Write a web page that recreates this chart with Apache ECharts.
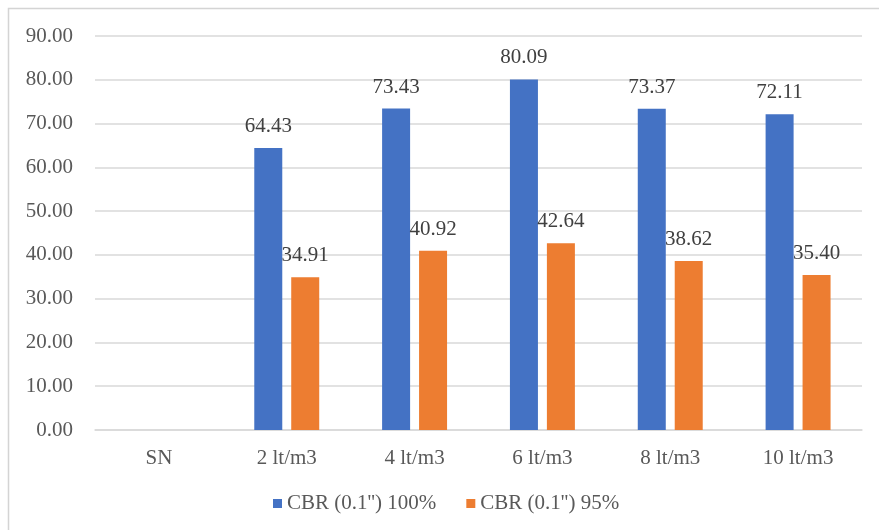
<!DOCTYPE html>
<html>
<head>
<meta charset="utf-8">
<script src="https://cdn.jsdelivr.net/npm/echarts@6/dist/echarts.min.js"></script>
<style>
  html, body { margin: 0; padding: 0; background: #ffffff; }
  #chart { width: 879px; height: 530px; }
</style>
</head>
<body>
<div id="chart"></div>
<script>
// Dosage categories along the horizontal axis
const categories = ['SN', '2 lt/m3', '4 lt/m3', '6 lt/m3', '8 lt/m3', '10 lt/m3'];

// CBR values at 0.1" penetration (SN has no measurement shown)
const cbr100 = [null, 64.43, 73.43, 80.09, 73.37, 72.11];
const cbr95 = [null, 34.91, 40.92, 42.64, 38.62, 35.40];

const seriesNames = ['CBR (0.1\'\') 100%', 'CBR (0.1\'\') 95%'];

// Value axis range
const yMin = 0;
const yMax = 90;
const yStep = 10;

const FONT = '"Liberation Serif", "Times New Roman", serif';
const chart = echarts.init(document.getElementById('chart'));

const valueLabel = {
  show: true,
  position: 'top',
  distance: 11,
  fontFamily: FONT,
  fontSize: 21,
  color: '#404040',
  formatter: p => (p.value == null ? '' : Number(p.value).toFixed(2))
};

chart.setOption({
  animation: false,
  backgroundColor: '#ffffff',
  graphic: [{
    type: 'rect',
    shape: { x: 8.5, y: 8.5, width: 1000, height: 1000 },
    style: { fill: 'none', stroke: '#d4d4d4', lineWidth: 1.5 },
    silent: true,
    z: -1
  }],
  grid: { left: 95, right: 17, top: 36, bottom: 100 },
  legend: {
    left: 268,
    top: 488,
    itemWidth: 9,
    itemHeight: 9,
    itemGap: 30,
    icon: 'rect',
    textStyle: { fontFamily: FONT, fontSize: 21, color: '#595959' },
    data: seriesNames
  },
  xAxis: {
    type: 'category',
    data: categories,
    axisTick: { show: false },
    axisLine: { lineStyle: { color: '#d9d9d9', width: 1.5 } },
    axisLabel: { fontFamily: FONT, fontSize: 21, color: '#595959', margin: 18 }
  },
  yAxis: {
    type: 'value',
    min: yMin,
    max: yMax,
    interval: yStep,
    axisLine: { show: false },
    axisTick: { show: false },
    splitLine: { lineStyle: { color: '#d9d9d9', width: 1.5 } },
    axisLabel: {
      fontFamily: FONT,
      fontSize: 21,
      color: '#595959',
      margin: 22,
      formatter: v => v.toFixed(2)
    }
  },
  series: [
    {
      name: seriesNames[0],
      type: 'bar',
      data: cbr100,
      barWidth: 28,
      barGap: '32%',
      itemStyle: { color: '#4472C4' },
      label: valueLabel
    },
    {
      name: seriesNames[1],
      type: 'bar',
      data: cbr95,
      barWidth: 28,
      barGap: '32%',
      itemStyle: { color: '#ED7D31' },
      label: valueLabel
    }
  ]
});
</script>
</body>
</html>
